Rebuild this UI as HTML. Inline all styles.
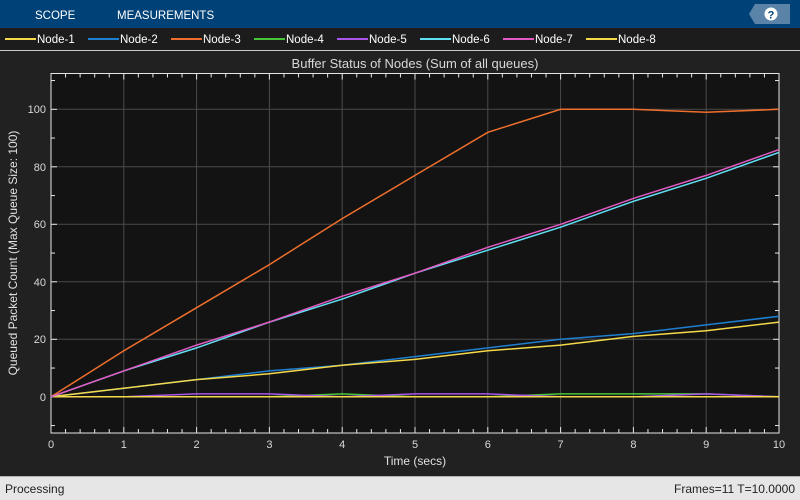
<!DOCTYPE html>
<html><head><style>
body{margin:0;width:800px;height:500px;overflow:hidden;background:#212121;font-family:"Liberation Sans",sans-serif;}
</style></head><body>
<svg width="800" height="500" xmlns="http://www.w3.org/2000/svg" font-family="Liberation Sans, sans-serif" style="display:block">
<rect x="0" y="0" width="800" height="28" fill="#004277"/>
<text x="35" y="19" fill="#fff" font-size="11.5">SCOPE</text>
<text x="117" y="19" fill="#fff" font-size="11.5">MEASUREMENTS</text>
<polygon points="755,4 790,4 790,24 755,24 749,14" fill="#5b83a8"/>
<circle cx="771" cy="14" r="6.5" fill="#fff"/>
<text x="771" y="18.5" fill="#004277" font-size="11" font-weight="bold" text-anchor="middle">?</text>
<rect x="0" y="28" width="800" height="22" fill="#1c1c1c"/>
<line x1="0" y1="50.5" x2="800" y2="50.5" stroke="#c8c8c8" stroke-width="1"/>
<g font-size="11.5" fill="#fff">
<line x1="5" y1="39" x2="36" y2="39" stroke="#f5d94a" stroke-width="2"/><text x="37" y="43">Node-1</text>
<line x1="88" y1="39" x2="119" y2="39" stroke="#1f7fd0" stroke-width="2"/><text x="120" y="43">Node-2</text>
<line x1="171" y1="39" x2="202" y2="39" stroke="#ee6f2d" stroke-width="2"/><text x="203" y="43">Node-3</text>
<line x1="254" y1="39" x2="285" y2="39" stroke="#47c43a" stroke-width="2"/><text x="286" y="43">Node-4</text>
<line x1="337" y1="39" x2="368" y2="39" stroke="#a855e8" stroke-width="2"/><text x="369" y="43">Node-5</text>
<line x1="420" y1="39" x2="451" y2="39" stroke="#5fe0f5" stroke-width="2"/><text x="452" y="43">Node-6</text>
<line x1="503" y1="39" x2="534" y2="39" stroke="#e35ac4" stroke-width="2"/><text x="535" y="43">Node-7</text>
<line x1="586" y1="39" x2="617" y2="39" stroke="#f5d94a" stroke-width="2"/><text x="618" y="43">Node-8</text>
</g>
<text x="415" y="68" fill="#d8d8d8" font-size="13" text-anchor="middle">Buffer Status of Nodes (Sum of all queues)</text>
<rect x="51" y="73.5" width="728" height="359.5" fill="#131313" stroke="#e6e6e6" stroke-width="1"/>
<g stroke="#4a4a4a" stroke-width="1">
<line x1="123.8" y1="74" x2="123.8" y2="433"/><line x1="196.6" y1="74" x2="196.6" y2="433"/><line x1="269.4" y1="74" x2="269.4" y2="433"/><line x1="342.2" y1="74" x2="342.2" y2="433"/><line x1="415" y1="74" x2="415" y2="433"/><line x1="487.8" y1="74" x2="487.8" y2="433"/><line x1="560.6" y1="74" x2="560.6" y2="433"/><line x1="633.4" y1="74" x2="633.4" y2="433"/><line x1="706.2" y1="74" x2="706.2" y2="433"/>
<line x1="51" y1="109.3" x2="779" y2="109.3"/><line x1="51" y1="166.8" x2="779" y2="166.8"/><line x1="51" y1="224.3" x2="779" y2="224.3"/><line x1="51" y1="281.8" x2="779" y2="281.8"/><line x1="51" y1="339.3" x2="779" y2="339.3"/><line x1="51" y1="396.8" x2="779" y2="396.8"/>
</g>
<g id="ticks" stroke="#e6e6e6" stroke-width="1"></g>
<g font-size="11" fill="#d8d8d8" text-anchor="middle">
<text x="51" y="448">0</text><text x="123.8" y="448">1</text><text x="196.6" y="448">2</text><text x="269.4" y="448">3</text><text x="342.2" y="448">4</text><text x="415" y="448">5</text><text x="487.8" y="448">6</text><text x="560.6" y="448">7</text><text x="633.4" y="448">8</text><text x="706.2" y="448">9</text><text x="779" y="448">10</text>
</g>
<g font-size="11" fill="#d8d8d8" text-anchor="end">
<text x="46" y="113">100</text><text x="46" y="171">80</text><text x="46" y="228">60</text><text x="46" y="286">40</text><text x="46" y="343">20</text><text x="46" y="401">0</text>
</g>
<text x="415" y="465" fill="#e0e0e0" font-size="12" text-anchor="middle">Time (secs)</text>
<text transform="translate(17,253) rotate(-90)" fill="#e0e0e0" font-size="12" text-anchor="middle">Queued Packet Count (Max Queue Size: 100)</text>
<g id="series" fill="none" stroke-width="1.5"></g>
<rect x="0" y="476" width="800" height="24" fill="#e6e6e6"/>
<line x1="0" y1="476.5" x2="800" y2="476.5" stroke="#b0b0b0"/>
<text x="5" y="493" fill="#222" font-size="12">Processing</text>
<text x="795" y="493" fill="#222" font-size="12" text-anchor="end">Frames=11  T=10.0000</text>
</svg>
<script>
function X(t){return 51+72.8*t}function Y(v){return 396.8-2.875*v}
var tk=document.getElementById("ticks"),h="";
for(var i=0;i<=50;i++){var x=X(i*0.2);var L=(i%5==0)?6:4;h+='<line x1="'+x+'" y1="433" x2="'+x+'" y2="'+(433-L)+'"/><line x1="'+x+'" y1="73.5" x2="'+x+'" y2="'+(73.5+L)+'"/>';}
for(var v=-10;v<=110;v+=10){var y=Y(v);var L=(v%20==0)?6:4;h+='<line x1="51" y1="'+y+'" x2="'+(51+L)+'" y2="'+y+'"/><line x1="779" y1="'+y+'" x2="'+(779-L)+'" y2="'+y+'"/>';}
tk.innerHTML=h;
var S=[["#47c43a",[0,0,0,0,1,0,0,1,1,1,0]],["#a855e8",[0,0,1,1,0,1,1,0,0,1,0]],["#f5d94a",[0,0,0,0,0,0,0,0,0,0,0]],
["#ee6f2d",[0,16,31,46,62,77,92,100,100,99,100]],["#1f7fd0",[0,3,6,9,11,14,17,20,22,25,28]],["#f5d94a",[0,3,6,8,11,13,16,18,21,23,26]],
["#5fe0f5",[0,9,17,26,34,43,51,59,68,76,85]],["#e35ac4",[0,9,18,26,35,43,52,60,69,77,86]]];
var g=document.getElementById("series"),s="";
S.forEach(function(a){var p=a[1].map(function(v,i){return X(i).toFixed(1)+","+Y(v).toFixed(1)}).join(" ");s+='<polyline stroke="'+a[0]+'" points="'+p+'"/>';});
g.innerHTML=s;
</script>
</body></html>
